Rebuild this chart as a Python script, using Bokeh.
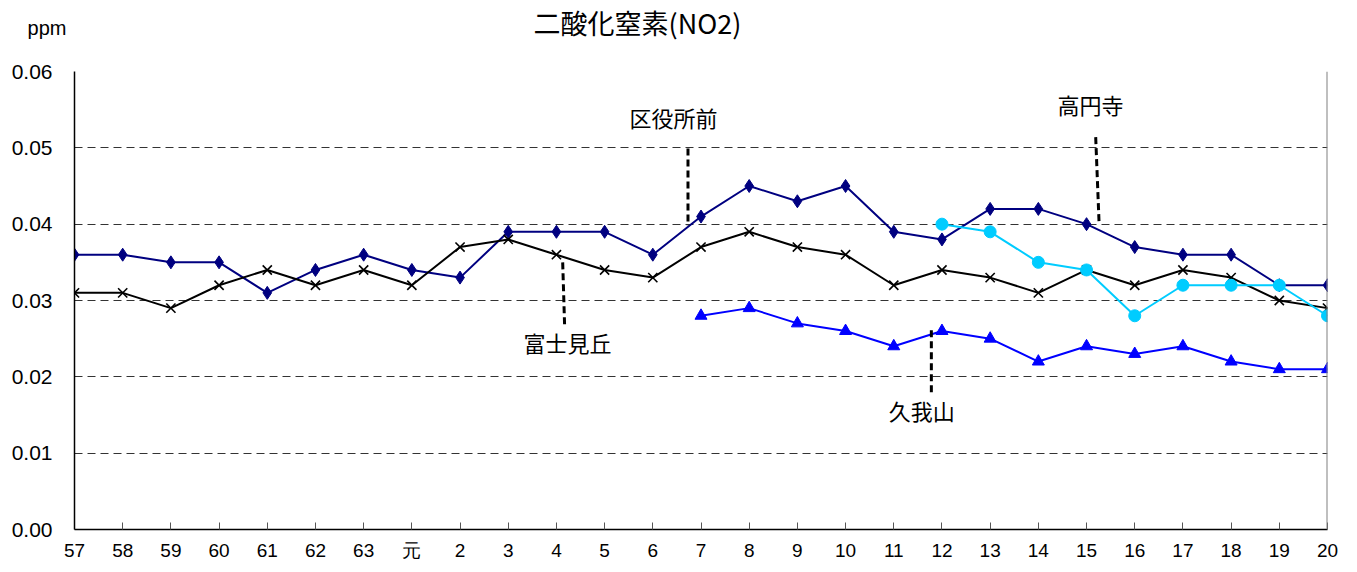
from bokeh.plotting import figure
from bokeh.models import Range1d, FixedTicker, Span, Label
from bokeh.layouts import column
from bokeh.embed import file_html
from bokeh.resources import INLINE

years = ["57", "58", "59", "60", "61", "62", "63", "元", "2", "3", "4", "5", "6",
         "7", "8", "9", "10", "11", "12", "13", "14", "15", "16", "17", "18", "19", "20"]

kuyakusho = [0.036, 0.036, 0.035, 0.035, 0.031, 0.034, 0.036, 0.034, 0.033, 0.039, 0.039,
             0.039, 0.036, 0.041, 0.045, 0.043, 0.045, 0.039, 0.038, 0.042, 0.042, 0.040,
             0.037, 0.036, 0.036, 0.032, 0.032]
fujimigaoka = [0.031, 0.031, 0.029, 0.032, 0.034, 0.032, 0.034, 0.032, 0.037, 0.038, 0.036,
               0.034, 0.033, 0.037, 0.039, 0.037, 0.036, 0.032, 0.034, 0.033, 0.031, 0.034,
               0.032, 0.034, 0.033, 0.030, 0.029]
koenji_years = ["12", "13", "14", "15", "16", "17", "18", "19", "20"]
koenji = [0.040, 0.039, 0.035, 0.034, 0.028, 0.032, 0.032, 0.032, 0.028]
kugayama_years = ["7", "8", "9", "10", "11", "12", "13", "14", "15", "16", "17", "18", "19", "20"]
kugayama = [0.028, 0.029, 0.027, 0.026, 0.024, 0.026, 0.025, 0.022, 0.024, 0.023, 0.024,
            0.022, 0.021, 0.021]
y_ticks = [0.00, 0.01, 0.02, 0.03, 0.04, 0.05, 0.06]

idx = {y: i for i, y in enumerate(years)}
x_all = list(range(len(years)))
x_koenji = [idx[y] for y in koenji_years]
x_kugayama = [idx[y] for y in kugayama_years]

FONT = "Liberation Sans"
CJK = "Noto Sans CJK JP"

W = 1340
TOP_H = 58
GAP = 13
LEFT = 74
RIGHT = 13

# header strip holding the title and the unit ("ppm" is the header's left-axis label)
head = figure(width=W, height=TOP_H, output_backend="svg", toolbar_location=None,
              x_range=Range1d(LEFT, W - RIGHT), y_range=Range1d(0, TOP_H),
              x_axis_type=None, min_border=0)
head.min_border_left = LEFT
head.min_border_right = RIGHT
head.outline_line_color = None
head.grid.visible = False
head.yaxis.ticker = FixedTicker(ticks=[TOP_H - 27])
head.yaxis.major_label_overrides = {TOP_H - 27: "ppm"}
head.yaxis.axis_line_color = None
head.yaxis.major_tick_line_color = None
head.yaxis.minor_tick_line_color = None
head.yaxis.major_label_text_font = FONT
head.yaxis.major_label_text_font_size = "20px"
head.yaxis.major_label_text_color = "black"
head.yaxis.major_label_standoff = 2
head.add_layout(Label(x=637, y=TOP_H - 22, text="二酸化窒素(NO2)", text_font=CJK,
                      text_font_size="27px", text_align="center", text_baseline="middle",
                      text_color="black"))

p = figure(width=W, height=567 - TOP_H, output_backend="svg", toolbar_location=None,
           x_range=Range1d(0, len(years) - 1), y_range=Range1d(0, 0.06))
p.min_border_left = LEFT
p.min_border_right = RIGHT
p.min_border_top = GAP
p.min_border_bottom = 38
p.outline_line_color = None
p.background_fill_color = "white"

p.xaxis.ticker = FixedTicker(ticks=x_all)
p.xaxis.major_label_overrides = {i: y for i, y in enumerate(years)}
p.xaxis.major_tick_in = 7
p.xaxis.major_tick_out = 0
p.xaxis.major_tick_line_color = "#555555"
p.xaxis.minor_tick_line_color = None
p.xaxis.axis_line_color = "black"
p.xaxis.axis_line_width = 1.5
p.xaxis.major_label_text_font = FONT
p.xaxis.major_label_text_font_size = "19px"
p.xaxis.major_label_text_color = "black"
p.xaxis.major_label_standoff = 10

p.yaxis.ticker = FixedTicker(ticks=y_ticks)
p.yaxis.major_label_overrides = {t: f"{t:.2f}" for t in y_ticks}
p.yaxis.major_tick_in = 0
p.yaxis.major_tick_out = 0
p.yaxis.minor_tick_line_color = None
p.yaxis.axis_line_color = "black"
p.yaxis.axis_line_width = 1.5
p.yaxis.major_label_text_font = FONT
p.yaxis.major_label_text_font_size = "21px"
p.yaxis.major_label_text_color = "black"
p.yaxis.major_label_standoff = 22

p.xgrid.grid_line_color = None
p.ygrid.ticker = FixedTicker(ticks=y_ticks[1:])
p.ygrid.grid_line_color = "#333333"
p.ygrid.grid_line_dash = "8 5"
p.ygrid.grid_line_width = 1

p.add_layout(Span(location=len(years) - 1, dimension="height", line_color="#808080", line_width=2))

# series
p.line(x_all, kuyakusho, line_color="#000080", line_width=2)
p.scatter(x_all, kuyakusho, marker="diamond", size=13, fill_color="#000080", line_color="#000080")

p.line(x_all, fujimigaoka, line_color="black", line_width=2)
p.scatter(x_all, fujimigaoka, marker="x", size=13, line_color="black", line_width=1.6)

p.line(x_koenji, koenji, line_color="#00CCFF", line_width=2)
p.scatter(x_koenji, koenji, marker="circle", size=12, fill_color="#00CCFF", line_color="#00CCFF")

p.line(x_kugayama, kugayama, line_color="#0000FF", line_width=2)
p.scatter(x_kugayama, kugayama, marker="triangle", size=12, fill_color="#0000FF", line_color="#0000FF")

# leader lines and labels
leaders = [
    ([12.73, 12.73], [0.0499, 0.0398]),
    ([21.19, 21.26], [0.0514, 0.0402]),
    ([10.13, 10.17], [0.0350, 0.0267]),
    ([17.78, 17.78], [0.0261, 0.0176]),
]
for xs, ys in leaders:
    p.line(xs, ys, line_color="black", line_width=3, line_dash="7 4")

labels = [
    ("区役所前", 12.43, 0.0541),
    ("高円寺", 21.08, 0.0558),
    ("富士見丘", 10.23, 0.0245),
    ("久我山", 17.58, 0.0156),
]
for t, x, y in labels:
    p.add_layout(Label(x=x, y=y, text=t, text_font=CJK, text_font_size="22px",
                       text_align="center", text_baseline="middle", text_color="black"))

layout = column(head, p, spacing=0)
open("out.html", "w").write(file_html(layout, INLINE))
